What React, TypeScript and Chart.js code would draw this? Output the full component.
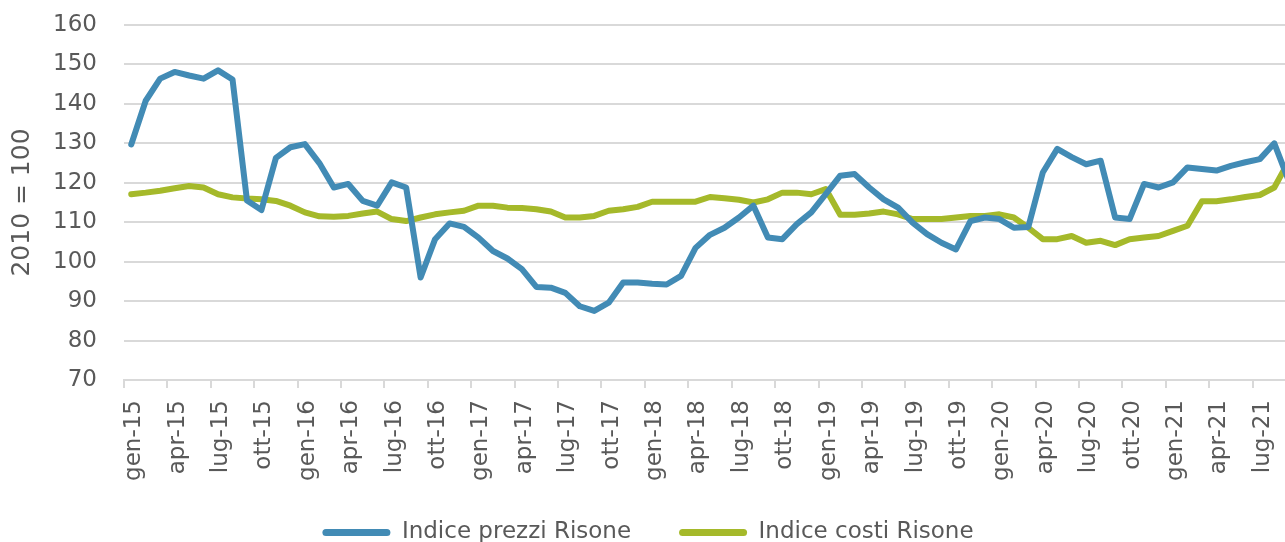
import React, { useEffect, useRef } from "react";
import { Chart, registerables } from "chart.js";

Chart.register(...registerables);

const MONTHS = ["gen", "feb", "mar", "apr", "mag", "giu", "lug", "ago", "set", "ott", "nov", "dic"];
const YEARS = ["15", "16", "17", "18", "19", "20", "21"];
const CATEGORIES = YEARS.flatMap((y) => MONTHS.map((m) => `${m}-${y}`)).slice(0, 81);

const PREZZI = [
  129.7, 140.8, 146.4, 148.1, 147.2, 146.4, 148.5, 146.2, 115.5, 113.1, 126.3, 129.0,
  129.8, 125.0, 118.8, 119.7, 115.4, 114.2, 120.1, 118.8, 96.0, 105.7, 109.7, 108.8,
  106.1, 102.7, 100.8, 98.1, 93.6, 93.4, 92.1, 88.7, 87.5, 89.6, 94.7, 94.7,
  94.4, 94.2, 96.4, 103.5, 106.8, 108.6, 111.2, 114.2, 106.1, 105.7, 109.5, 112.5,
  117.1, 121.8, 122.2, 118.8, 115.8, 113.7, 109.9, 107.0, 104.8, 103.1, 110.3, 111.2,
  110.8, 108.6, 108.8, 122.6, 128.6, 126.5, 124.7, 125.6, 111.2, 110.8, 119.7, 118.8,
  120.1, 123.9, 123.5, 123.1, 124.3, 125.2, 126.0, 130.0, 120.5,
];

const COSTI = [
  117.1, 117.5, 118.0, 118.6, 119.2, 118.8, 117.1, 116.3, 116.0, 115.8, 115.4, 114.2,
  112.5, 111.5, 111.4, 111.6, 112.2, 112.7, 110.8, 110.3, 111.2, 112.0, 112.5, 112.9,
  114.2, 114.2, 113.7, 113.6, 113.3, 112.7, 111.2, 111.2, 111.6, 112.9, 113.3, 113.9,
  115.2, 115.2, 115.2, 115.2, 116.4, 116.1, 115.7, 115.0, 115.8, 117.5, 117.5, 117.1,
  118.4, 111.9, 111.9, 112.2, 112.7, 112.0, 110.8, 110.8, 110.8, 111.2, 111.6, 111.6,
  112.0, 111.2, 108.6, 105.7, 105.7, 106.5, 104.8, 105.3, 104.2, 105.7, 106.1, 106.5,
  107.8, 109.1, 115.3, 115.3, 115.8, 116.4, 116.9, 118.8, 125.5,
];

const SERIES_NAMES = ["Indice prezzi Risone", "Indice costi Risone"];
const Y_TITLE = "2010 = 100";
const Y_MIN = 70;
const Y_MAX = 160;
const Y_STEP = 10;
const LABEL_EVERY = 3;

const BLUE = "#428BB5";
const GREEN = "#A5B92A";
const TEXT = "#595959";
const GRID = "#D9D9D9";
const FONT = "'DejaVu Sans', sans-serif";

export default function App() {
  const ref = useRef<HTMLCanvasElement>(null);

  useEffect(() => {
    const canvas = ref.current;
    if (!canvas) return;
    const chart = new Chart(canvas, {
      type: "line",
      data: {
        labels: CATEGORIES,
        datasets: [
          {
            label: SERIES_NAMES[0],
            data: PREZZI,
            borderColor: BLUE,
            backgroundColor: BLUE,
            borderWidth: 6,
            pointRadius: 0,
            tension: 0,
            borderJoinStyle: "round",
            borderCapStyle: "round",
          },
          {
            label: SERIES_NAMES[1],
            data: COSTI,
            borderColor: GREEN,
            backgroundColor: GREEN,
            borderWidth: 6,
            pointRadius: 0,
            tension: 0,
            borderJoinStyle: "round",
            borderCapStyle: "round",
          },
        ],
      },
      options: {
        responsive: false,
        animation: false,
        layout: { padding: { top: 25, right: 1, left: 0, bottom: 0 } },
        plugins: {
          tooltip: { enabled: false },
          legend: {
            position: "bottom",
            labels: {
              boxWidth: 68,
              boxHeight: 7,
              padding: 48,
              color: TEXT,
              font: { family: FONT, size: 23 },
              generateLabels: (c: any) =>
                (Chart.defaults.plugins.legend.labels as any)
                  .generateLabels(c)
                  .map((it: any) => ({
                    ...it,
                    lineWidth: 0,
                    fillStyle: it.strokeStyle,
                    borderRadius: 3.5,
                  })),
            },
          },
        },
        scales: {
          x: {
            offset: true,
            grid: {
              offset: true,
              drawOnChartArea: false,
              drawTicks: true,
              tickLength: 8,
              lineWidth: 2,
              color: (c: any) => (c.index % LABEL_EVERY === 0 ? GRID : "rgba(0,0,0,0)"),
            },
            border: { display: true, color: GRID, width: 2 },
            ticks: {
              autoSkip: false,
              minRotation: 90,
              maxRotation: 90,
              padding: 12,
              labelOffset: 3,
              color: TEXT,
              font: { family: FONT, size: 23 },
              callback: (_v: any, i: number) => (i % LABEL_EVERY === 0 ? CATEGORIES[i] : ""),
            },
            afterFit: (s: any) => {
              s.height = 93;
              s.paddingLeft = 0;
              s.paddingRight = 0;
              // let the rotated labels run below the axis box
              s._computeLabelArea = () => undefined;
            },
          },
          y: {
            min: Y_MIN,
            max: Y_MAX,
            ticks: {
              stepSize: Y_STEP,
              padding: 27,
              color: TEXT,
              font: { family: FONT, size: 23 },
            },
            grid: { color: GRID, lineWidth: 2, drawTicks: false },
            border: { display: false },
            title: {
              display: true,
              text: Y_TITLE,
              color: TEXT,
              font: { family: FONT, size: 25 },
              padding: { top: 7, bottom: 0 },
            },
            afterFit: (s: any) => {
              s.width = 124;
              s.paddingTop = 0;
              s.paddingBottom = 0;
            },
          },
        },
      },
    } as any);
    return () => chart.destroy();
  }, []);

  return (
    <div
      style={{
        position: "absolute",
        left: 0,
        top: 0,
        width: 1285,
        height: 542,
        overflow: "hidden",
        background: "#fff",
      }}
    >
      <canvas ref={ref} width={1297} height={554} style={{ display: "block" }} />
    </div>
  );
}
